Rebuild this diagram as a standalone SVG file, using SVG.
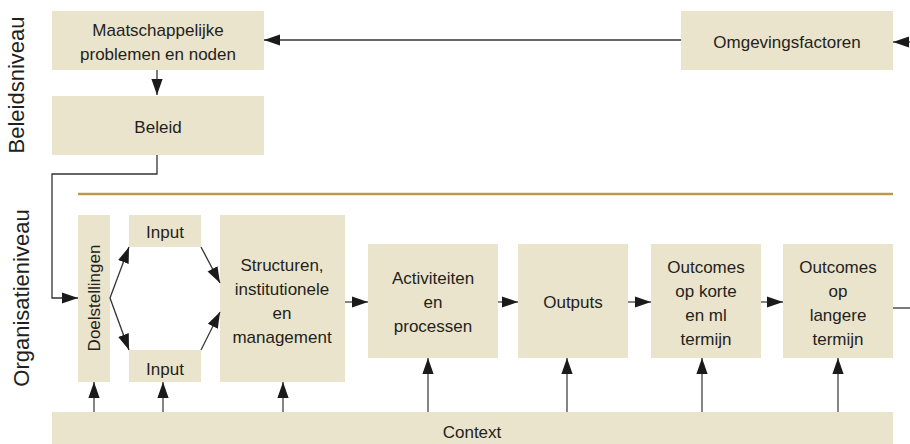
<svg xmlns="http://www.w3.org/2000/svg" width="910" height="444" viewBox="0 0 910 444">
<defs>
<style>
.box{fill:#ebe4cc}
.t{font-family:"Liberation Sans",Arial,sans-serif;font-size:17px;fill:#231f20;text-anchor:middle}
.side{font-family:"Liberation Sans",Arial,sans-serif;font-size:22px;fill:#231f20;text-anchor:middle}
.c{fill:none;stroke:#333;stroke-width:1.3}
.g{fill:none;stroke:#666;stroke-width:1.6}
</style>
<marker id="ahb" viewBox="0 0 10 10" refX="10" refY="5" markerWidth="16" markerHeight="16" markerUnits="userSpaceOnUse" orient="auto">
<path d="M0,1.5 L10,5 L0,8.5 z" fill="#1a1a1a"/>
</marker>
</defs>
<rect width="910" height="444" fill="#ffffff"/>
<text class="side" transform="translate(24,85) rotate(-90)">Beleidsniveau</text>
<text class="side" transform="translate(29,298) rotate(-90)">Organisatieniveau</text>
<line x1="78" y1="194" x2="893" y2="194" stroke="#b89a48" stroke-width="2.5"/>
<g id="maatschappelijke"><rect class="box" x="52" y="11" width="212" height="59"/><text class="t" x="158" y="36">Maatschappelijke</text><text class="t" x="158" y="60">problemen en noden</text></g>
<g id="beleid"><rect class="box" x="52" y="96" width="212" height="59"/><text class="t" x="158" y="133">Beleid</text></g>
<g id="omgevingsfactoren"><rect class="box" x="681" y="11" width="212" height="59"/><text class="t" x="787" y="48">Omgevingsfactoren</text></g>
<g id="doelstellingen"><rect class="box" x="78" y="215" width="32" height="167"/><text class="t" transform="translate(100,298) rotate(-90)">Doelstellingen</text></g>
<g id="input1"><rect class="box" x="129" y="215" width="72" height="32"/><text class="t" x="165" y="238">Input</text></g>
<g id="input2"><rect class="box" x="129" y="350" width="72" height="32"/><text class="t" x="165" y="375">Input</text></g>
<g id="structuren"><rect class="box" x="220" y="215" width="125" height="167"/><text class="t" x="282" y="271">Structuren,</text><text class="t" x="282" y="295">institutionele</text><text class="t" x="282" y="319">en</text><text class="t" x="282" y="343">management</text></g>
<g id="activiteiten"><rect class="box" x="368" y="244" width="130" height="114"/><text class="t" x="433" y="284">Activiteiten</text><text class="t" x="433" y="308">en</text><text class="t" x="433" y="332">processen</text></g>
<g id="outputs"><rect class="box" x="518" y="244" width="110" height="114"/><text class="t" x="573" y="308">Outputs</text></g>
<g id="outcomes1"><rect class="box" x="651" y="244" width="110" height="114"/><text class="t" x="706" y="273">Outcomes</text><text class="t" x="706" y="297">op korte</text><text class="t" x="706" y="321">en ml</text><text class="t" x="706" y="345">termijn</text></g>
<g id="outcomes2"><rect class="box" x="783" y="244" width="110" height="114"/><text class="t" x="838" y="273">Outcomes</text><text class="t" x="838" y="297">op</text><text class="t" x="838" y="321">langere</text><text class="t" x="838" y="345">termijn</text></g>
<g id="context"><rect class="box" x="52" y="412" width="841" height="32"/><text class="t" x="472" y="438">Context</text></g>
<g id="connectors">
<line class="c" x1="681" y1="40" x2="264" y2="40" marker-end="url(#ahb)"/>
<line class="c" x1="910" y1="42" x2="893" y2="42" marker-end="url(#ahb)"/>
<line class="c" x1="157" y1="70" x2="157" y2="95" marker-end="url(#ahb)"/>
<polyline class="c" points="157,155 157,174 52,174 52,298 78,298" marker-end="url(#ahb)"/>
<line class="c" x1="110" y1="298" x2="129" y2="247" marker-end="url(#ahb)"/>
<line class="c" x1="110" y1="298" x2="129" y2="350" marker-end="url(#ahb)"/>
<line class="c" x1="201" y1="247" x2="220" y2="283" marker-end="url(#ahb)"/>
<line class="c" x1="201" y1="350" x2="220" y2="312" marker-end="url(#ahb)"/>
<line class="g" x1="345" y1="302" x2="368" y2="302" marker-end="url(#ahb)"/>
<line class="g" x1="498" y1="302" x2="518" y2="302" marker-end="url(#ahb)"/>
<line class="g" x1="628" y1="302" x2="651" y2="302" marker-end="url(#ahb)"/>
<line class="g" x1="761" y1="302" x2="783" y2="302" marker-end="url(#ahb)"/>
<line class="c" x1="893" y1="308" x2="910" y2="308"/>
<line class="g" x1="94" y1="412" x2="94" y2="382" marker-end="url(#ahb)"/>
<line class="g" x1="163" y1="412" x2="163" y2="382" marker-end="url(#ahb)"/>
<line class="g" x1="283" y1="412" x2="283" y2="382" marker-end="url(#ahb)"/>
<line class="g" x1="428" y1="412" x2="428" y2="358" marker-end="url(#ahb)"/>
<line class="g" x1="567" y1="412" x2="567" y2="358" marker-end="url(#ahb)"/>
<line class="g" x1="702" y1="412" x2="702" y2="358" marker-end="url(#ahb)"/>
<line class="g" x1="838" y1="412" x2="838" y2="358" marker-end="url(#ahb)"/>
</g>
</svg>
